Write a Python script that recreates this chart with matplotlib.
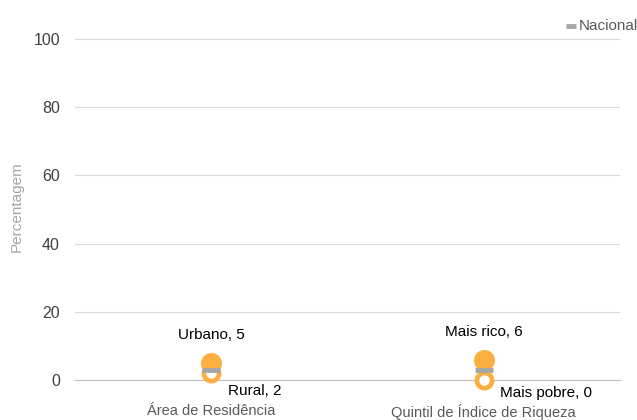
import matplotlib.pyplot as plt

plt.rcParams['font.family'] = ['Liberation Sans', 'DejaVu Sans']

# Data
categories = ['Área de Residência', 'Quintil de Índice de Riqueza']
high_labels = ['Urbano', 'Mais rico']
high_values = [5, 6]
low_labels = ['Rural', 'Mais pobre']
low_values = [2, 0]
nacional = [3, 3]

orange = '#FAAF40'
grey = '#A6A6A6'

fig = plt.figure(figsize=(6.37, 4.2), dpi=100)
ax = fig.add_axes([0.118, 0.095, 0.855, 0.812])

x = list(range(len(categories)))

# thin connecting line inside markers
for i in x:
    ax.plot([i, i], [low_values[i], high_values[i]], color='#DDDDDD', lw=1, zorder=2, clip_on=False)

ax.scatter(x, high_values, s=200, color=orange, zorder=3, clip_on=False)
ax.scatter(x, low_values, s=120, facecolor='white', edgecolor=orange, linewidth=3.4, zorder=3, clip_on=False)
ax.scatter(x, nacional, marker='_', s=170, color=grey, linewidth=3.5, zorder=4, clip_on=False,
           label='Nacional')

# label offsets (points)
low_offsets = [(12, -8), (12, -4)]
for i in x:
    ax.annotate(f'{high_labels[i]}, {high_values[i]}', (i, high_values[i]), xytext=(0, 15),
                textcoords='offset points', ha='center', va='bottom', fontsize=11, color='#000000')
    ax.annotate(f'{low_labels[i]}, {low_values[i]}', (i, low_values[i]), xytext=low_offsets[i],
                textcoords='offset points', ha='left', va='top', fontsize=11, color='#000000')

ax.set_xlim(-0.5, 1.5)
ax.set_ylim(0, 100)
ax.set_yticks(range(0, 101, 20))
ax.set_xticks(x)
ax.set_xticklabels(categories, fontsize=10.5, color='#595959')
ax.tick_params(axis='x', length=0, pad=17)
ax.tick_params(axis='y', length=0, labelsize=11.5, labelcolor='#404040', pad=11)
ax.grid(axis='y', color='#D9D9D9', lw=0.8)
ax.set_axisbelow(True)
for s in ['top', 'right', 'left']:
    ax.spines[s].set_visible(False)
ax.spines['bottom'].set_color('#BFBFBF')
ax.set_ylabel('Percentagem', fontsize=11, color='#A6A6A6')
ax.yaxis.set_label_coords(-0.094, 0.51)

leg = ax.legend(loc='upper right', bbox_to_anchor=(1.045, 1.077), frameon=False, fontsize=11,
                handlelength=0.6, handletextpad=0.2, markerscale=0.5, borderaxespad=0)
for t in leg.get_texts():
    t.set_color('#595959')

fig.savefig('out.png', dpi=100)
